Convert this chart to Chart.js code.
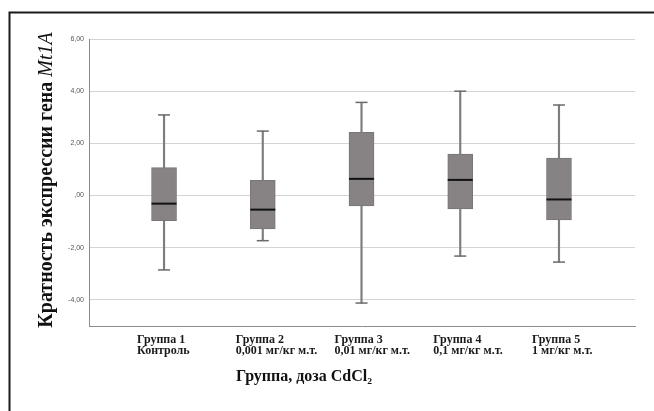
<!DOCTYPE html>
<html>
<head>
<meta charset="utf-8">
<script src="https://cdn.jsdelivr.net/npm/chart.js@4.4.1/dist/chart.umd.min.js"></script>
<style>
  html, body { margin: 0; padding: 0; background: #fff; }
  #wrap { width: 654px; height: 411px; }
</style>
</head>
<body>
<div id="wrap"><canvas id="myChart" width="654" height="411"></canvas></div>
<script>
// данные по группам
const groupLabels = [
    ['Группа 1', 'Контроль'],
    ['Группа 2', '0,001 мг/кг м.т.'],
    ['Группа 3', '0,01 мг/кг м.т.'],
    ['Группа 4', '0,1 мг/кг м.т.'],
    ['Группа 5', '1 мг/кг м.т.']
];
const whiskerMin = [-2.85, -1.73, -4.12, -2.32, -2.55];
const q1 = [-0.96, -1.28, -0.40, -0.51, -0.93];
const median = [-0.31, -0.54, 0.64, 0.60, -0.15];
const q3 = [1.07, 0.58, 2.42, 1.59, 1.44];
const whiskerMax = [3.09, 2.47, 3.57, 4.00, 3.47];
const yTicks = [6, 4, 2, 0, -2, -4];

const pos = groupLabels.map((_, i) => i + 1);
const serif = "'Liberation Serif', 'Times New Roman', serif";

// рамка и подписи осей
const decor = {
    id: 'decor',
    afterDraw(chart) {
        const ctx = chart.ctx;
        const area = chart.chartArea;
        ctx.save();
        ctx.strokeStyle = '#1a1a1a';
        ctx.lineWidth = 2;
        ctx.beginPath();
        ctx.moveTo(9.5, 411);
        ctx.lineTo(9.5, 12.5);
        ctx.lineTo(654, 12.5);
        ctx.stroke();

        // подпись оси X
        ctx.fillStyle = '#111';
        ctx.font = 'bold 16px ' + serif;
        ctx.textAlign = 'center';
        ctx.textBaseline = 'middle';
        ctx.fillText('Группа, доза CdCl₂', area.left + 215, 377);

        // подпись оси Y (с курсивом для названия гена)
        const p1 = 'Кратность экспрессии гена ';
        const p2 = 'Mt1A';
        const f1 = 'bold 20px ' + serif;
        const f2 = 'italic 20px ' + serif;
        ctx.font = f1;
        const w1 = ctx.measureText(p1).width;
        ctx.font = f2;
        const w2 = ctx.measureText(p2).width;
        ctx.translate(47, 180);
        ctx.rotate(-Math.PI / 2);
        ctx.textAlign = 'left';
        const start = -(w1 + w2) / 2;
        ctx.font = f1;
        ctx.fillText(p1, start, 0);
        ctx.font = f2;
        ctx.fillText(p2, start + w1, 0);
        ctx.restore();
    }
};

const ctx = document.getElementById('myChart').getContext('2d');
const myChart = new Chart(ctx, {
    type: 'bar',
    data: {
        datasets: [
            {
                // усы
                data: pos.map((x, i) => ({ x: x, y: [whiskerMin[i], whiskerMax[i]] })),
                backgroundColor: '#7d7d7d',
                barThickness: 1.5,
                grouped: false,
                order: 3
            },
            {
                // коробка
                data: pos.map((x, i) => ({ x: x, y: [q1[i], q3[i]] })),
                backgroundColor: '#878385',
                borderColor: '#7a7678',
                borderWidth: 1,
                borderSkipped: false,
                barThickness: 25,
                grouped: false,
                order: 2
            },
            {
                type: 'line',
                data: pos.map((x, i) => ({ x: x, y: median[i] })),
                showLine: false,
                pointStyle: 'line',
                pointRadius: 12.5,
                pointBorderWidth: 2,
                pointBorderColor: '#111',
                order: 1
            },
            {
                type: 'line',
                data: pos.map((x, i) => ({ x: x, y: whiskerMax[i] })),
                showLine: false,
                pointStyle: 'line',
                pointRadius: 6,
                pointBorderWidth: 1.5,
                pointBorderColor: '#6a6a6a',
                order: 1
            },
            {
                type: 'line',
                data: pos.map((x, i) => ({ x: x, y: whiskerMin[i] })),
                showLine: false,
                pointStyle: 'line',
                pointRadius: 6,
                pointBorderWidth: 1.5,
                pointBorderColor: '#6a6a6a',
                order: 1
            }
        ]
    },
    options: {
        responsive: false,
        animation: false,
        events: [],
        layout: { padding: { top: 39, right: 19, left: 0, bottom: 0 } },
        plugins: {
            legend: { display: false },
            tooltip: { enabled: false }
        },
        scales: {
            x: {
                type: 'linear',
                offset: false,
                min: 0.24,
                max: 5.77,
                afterBuildTicks: (axis) => { axis.ticks = pos.map(v => ({ value: v })); },
                afterFit: (axis) => { axis.height = 85; },
                grid: { display: false },
                border: { display: true, color: '#8c8c8c', width: 1 },
                ticks: {
                    align: 'start',
                    labelOffset: -27,
                    padding: 0,
                    maxRotation: 0,
                    autoSkip: false,
                    color: '#1a1a1a',
                    font: { family: serif, size: 12, weight: 'bold', lineHeight: 0.95 },
                    callback: (v) => groupLabels[v - 1]
                }
            },
            y: {
                min: -5,
                max: 6,
                afterBuildTicks: (axis) => { axis.ticks = yTicks.map(v => ({ value: v })); },
                afterFit: (axis) => { axis.width = 89; },
                grid: { color: '#d4d4d4', lineWidth: 1, drawTicks: false },
                border: { display: true, color: '#8c8c8c', width: 1 },
                ticks: {
                    padding: 5,
                    color: '#555',
                    font: { family: "'Liberation Sans', Arial, sans-serif", size: 7 },
                    callback: (v) => v === 0 ? ',00' : v.toFixed(2).replace('.', ',')
                }
            }
        }
    },
    plugins: [decor]
});
</script>
</body>
</html>
